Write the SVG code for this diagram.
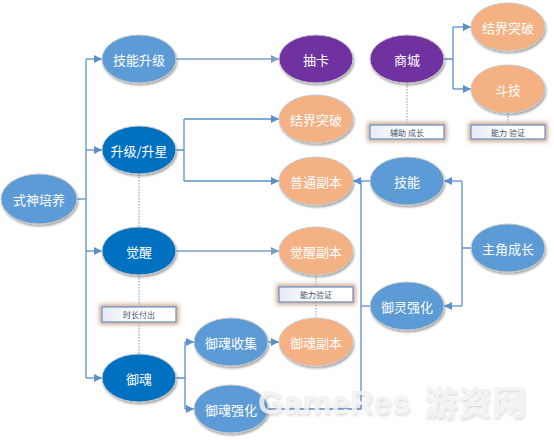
<svg xmlns="http://www.w3.org/2000/svg" width="554" height="440" viewBox="0 0 554 440">
<defs>
<filter id="sh" x="-20%" y="-20%" width="140%" height="150%">
<feGaussianBlur in="SourceAlpha" stdDeviation="1.2"/>
<feOffset dx="0.5" dy="1.5" result="b"/>
<feComponentTransfer><feFuncA type="linear" slope="0.35"/></feComponentTransfer>
<feMerge><feMergeNode/><feMergeNode in="SourceGraphic"/></feMerge>
</filter>
<filter id="glow" x="-20%" y="-60%" width="140%" height="220%">
<feMorphology in="SourceAlpha" operator="dilate" radius="2" result="d"/>
<feGaussianBlur in="d" stdDeviation="2" result="g"/>
<feFlood flood-color="#c9a78f" result="c"/>
<feComposite in="c" in2="g" operator="in" result="cg"/>
<feMerge><feMergeNode in="cg"/><feMergeNode in="SourceGraphic"/></feMerge>
</filter>
<filter id="wm" x="-10%" y="-30%" width="120%" height="160%">
<feGaussianBlur in="SourceAlpha" stdDeviation="1.5"/>
<feOffset dx="1" dy="2"/>
<feComponentTransfer><feFuncA type="linear" slope="0.18"/></feComponentTransfer>
<feMerge><feMergeNode/><feMergeNode in="SourceGraphic"/></feMerge>
</filter>
<linearGradient id="boxg" x1="0" y1="0" x2="1" y2="0">
<stop offset="0" stop-color="#e4ebf6"/>
<stop offset="0.5" stop-color="#ffffff"/>
<stop offset="1" stop-color="#ffffff"/>
</linearGradient>
<marker id="ah" viewBox="0 0 10 10" refX="10" refY="5" markerWidth="8" markerHeight="8" markerUnits="userSpaceOnUse" orient="auto">
<path d="M0,0 L10,5 L0,10 z" fill="#5b8fc9"/>
</marker>
<marker id="ah2" viewBox="0 0 10 10" refX="10" refY="5" markerWidth="8" markerHeight="8" markerUnits="userSpaceOnUse" orient="auto">
<path d="M0,0 L10,5 L0,10 z" fill="#7e9dc4"/>
</marker>
<style>
.n ellipse{stroke:#c8c8c8;stroke-width:1;filter:url(#sh)}
.mb ellipse{fill:#5b9bd5}
.db ellipse{fill:#0070c0}
.pu ellipse{fill:#7030a0}
.or ellipse{fill:#f4b183}
.n text{font-family:"Noto Sans CJK SC","Liberation Sans",sans-serif;font-size:13px;fill:#ffffff;text-anchor:middle;dominant-baseline:central}
.lb rect{fill:url(#boxg);stroke:#6a8fc0;stroke-width:1.2;filter:url(#glow)}
.lb text{font-family:"Noto Sans CJK SC","Liberation Sans",sans-serif;font-size:8px;fill:#44546a;text-anchor:middle;dominant-baseline:central}
.c{fill:none;stroke:#5b8fc9;stroke-width:1.3}
.c2{fill:none;stroke:#9fb4cf;stroke-width:1.8}
.d{fill:none;stroke:#a6a6a6;stroke-width:1.2;stroke-dasharray:1.5 1.5}
.d2{fill:none;stroke:#8fa9cc;stroke-width:1.2;stroke-dasharray:1.5 1.5}
</style>
</defs>
<rect width="554" height="440" fill="#ffffff"/>

<g id="connectors">
<!-- 式神培养 trunk -->
<path class="c" d="M77,199 H86"/>
<path class="c" d="M86,59 V378"/>
<path class="c" d="M86,59 H102" marker-end="url(#ah)"/>
<path class="c" d="M86,150 H102" marker-end="url(#ah)"/>
<path class="c" d="M86,251 H102" marker-end="url(#ah)"/>
<path class="c" d="M86,378 H102" marker-end="url(#ah)"/>
<!-- 技能升级 -> 抽卡 -->
<path class="c2" d="M176,59 H279" marker-end="url(#ah2)"/>
<!-- 升级/升星 -->
<path class="c" d="M176,150 H184 M184,119 V181"/>
<path class="c" d="M184,119 H279" marker-end="url(#ah)"/>
<path class="c" d="M184,181 H279" marker-end="url(#ah)"/>
<!-- 觉醒 -> 觉醒副本 -->
<path class="c2" d="M176,251 H279" marker-end="url(#ah2)"/>
<!-- 御魂 -->
<path class="c" d="M176,378 H185 M185,342 V409"/>
<path class="c" d="M185,342 H194" marker-end="url(#ah)"/>
<path class="c" d="M185,409 H194" marker-end="url(#ah)"/>
<!-- 御魂收集 -> 御魂副本 -->
<path class="c" d="M268,342 H279" marker-end="url(#ah)"/>
<!-- 御魂强化 / 技能 / 御灵强化 -> 普通副本 -->
<path class="c" d="M268,409 H361 V181"/>
<path class="c" d="M370,181 H353" marker-end="url(#ah)"/>
<path class="c" d="M370,306 H361"/>
<!-- 主角成长 -->
<path class="c" d="M471,248 H462 M462,181 V306"/>
<path class="c" d="M462,181 H444" marker-end="url(#ah)"/>
<path class="c" d="M462,306 H444" marker-end="url(#ah)"/>
<!-- 商城 -->
<path class="c" d="M444,59 H453 M453,27 V89"/>
<path class="c" d="M453,27 H471" marker-end="url(#ah)"/>
<path class="c" d="M453,89 H471" marker-end="url(#ah)"/>
<!-- dotted -->
<path class="d" d="M407,83 V125"/>
<path class="d" d="M508,113 V125"/>
<path class="d" d="M316,275 V287 M316,302 V318"/>
<path class="d2" d="M139,174 V227 M139,275 V307 M139,322 V354"/>
</g>

<g id="n-shishen" class="n mb"><ellipse cx="39" cy="199" rx="38" ry="25"/><text x="39" y="199">式神培养</text></g>
<g id="n-jinengsj" class="n mb"><ellipse cx="139" cy="59" rx="37" ry="24"/><text x="139" y="59">技能升级</text></g>
<g id="n-shengji" class="n db"><ellipse cx="139" cy="150" rx="37" ry="24"/><text x="139" y="150">升级/升星</text></g>
<g id="n-juexing" class="n db"><ellipse cx="139" cy="251" rx="37" ry="24"/><text x="139" y="251">觉醒</text></g>
<g id="n-yuhun" class="n db"><ellipse cx="139" cy="378" rx="37" ry="24"/><text x="139" y="378">御魂</text></g>
<g id="n-yhsj" class="n mb"><ellipse cx="231" cy="342" rx="37" ry="24"/><text x="231" y="342">御魂收集</text></g>
<g id="n-yhqh" class="n mb"><ellipse cx="231" cy="409" rx="37" ry="24"/><text x="231" y="409">御魂强化</text></g>
<g id="n-chouka" class="n pu"><ellipse cx="316" cy="59" rx="37" ry="24"/><text x="316" y="59">抽卡</text></g>
<g id="n-shangcheng" class="n pu"><ellipse cx="407" cy="59" rx="37" ry="24"/><text x="407" y="59">商城</text></g>
<g id="n-jjtp1" class="n or"><ellipse cx="508" cy="27" rx="37" ry="24"/><text x="508" y="27">结界突破</text></g>
<g id="n-douji" class="n or"><ellipse cx="508" cy="89" rx="37" ry="24"/><text x="508" y="89">斗技</text></g>
<g id="n-jjtp2" class="n or"><ellipse cx="316" cy="119" rx="37" ry="24"/><text x="316" y="119">结界突破</text></g>
<g id="n-ptfb" class="n or"><ellipse cx="316" cy="181" rx="37" ry="24"/><text x="316" y="181">普通副本</text></g>
<g id="n-jineng" class="n mb"><ellipse cx="407" cy="181" rx="37" ry="24"/><text x="407" y="181">技能</text></g>
<g id="n-jxfb" class="n or"><ellipse cx="316" cy="251" rx="37" ry="24"/><text x="316" y="251">觉醒副本</text></g>
<g id="n-yhfb" class="n or"><ellipse cx="316" cy="342" rx="37" ry="24"/><text x="316" y="342">御魂副本</text></g>
<g id="n-zjcz" class="n mb"><ellipse cx="508" cy="248" rx="37" ry="24"/><text x="508" y="248">主角成长</text></g>
<g id="n-ylqh" class="n mb"><ellipse cx="407" cy="306" rx="37" ry="24"/><text x="407" y="306">御灵强化</text></g>

<g id="l-fuzhu" class="lb"><rect x="370" y="125" width="74" height="14"/><text x="407" y="132">辅助 成长</text></g>
<g id="l-nlyz1" class="lb"><rect x="471" y="125" width="74" height="14"/><text x="508" y="132">能力 验证</text></g>
<g id="l-nlyz2" class="lb"><rect x="279" y="287" width="74" height="15"/><text x="316" y="294.5">能力验证</text></g>
<g id="l-scfc" class="lb"><rect x="102" y="307" width="74" height="15"/><text x="139" y="314.5">时长付出</text></g>

<g id="watermark" opacity="0.85" filter="url(#wm)">
<text x="258" y="414" font-family="Liberation Sans, sans-serif" font-weight="bold" font-size="33" fill="#f2f2f2">GameRes</text>
<text x="424" y="415" font-family="Noto Sans CJK SC, sans-serif" font-weight="bold" font-size="34" fill="#f2f2f2">游资网</text>
</g>
</svg>
